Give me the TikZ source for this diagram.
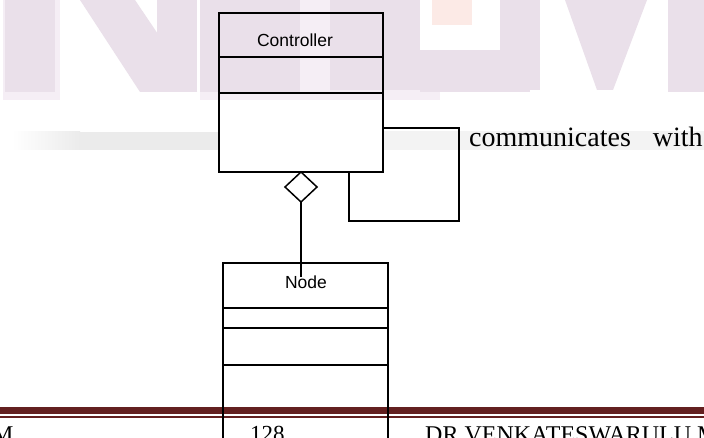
\documentclass[tikz,border=0pt]{standalone}
\usepackage{fontspec}
\setmainfont{Liberation Serif}
\newfontfamily\arialf{Liberation Sans}
\usetikzlibrary{shapes.geometric,calc}
\definecolor{lav}{RGB}{234,224,234}
\definecolor{lavl}{RGB}{245,238,245}
\definecolor{peach}{RGB}{252,234,230}
\definecolor{bandgray}{RGB}{235,235,235}
\definecolor{footred}{RGB}{99,32,32}
\tikzset{
  umlbox/.style={draw=black, line width=1.6pt, minimum width=164pt, inner sep=0pt, outer sep=0pt, anchor=north west},
  umlline/.style={draw=black, line width=1.6pt},
  sanslbl/.style={font=\arialf\fontsize{17.5}{20}\selectfont, inner sep=0pt, anchor=base},
  seriflbl/.style={font=\fontsize{28}{32}\selectfont, inner sep=0pt, anchor=base west},
  footlbl/.style={font=\fontsize{24}{28}\selectfont, inner sep=0pt, anchor=base west},
  aggdiamond/.style={shape=diamond, draw=black, line width=1.5pt, fill=white, minimum width=32pt, minimum height=30pt, inner sep=0pt, outer sep=0pt}
}
\begin{document}
\begin{tikzpicture}[x=1pt,y=-1pt]
\useasboundingbox (0,0) rectangle (704,438);
\clip (0,0) rectangle (704,438);
\fill[white] (0,0) rectangle (704,438);
% faint watermark
\fill[lavl] (3,0) rectangle (60,100);
\fill[lav] (5,0) rectangle (55,92);
\fill[lav] (80,0) -- (135,0) -- (197,92) -- (140,92) -- cycle;
\fill[lav] (157,0) rectangle (197,92);
\fill[lavl] (200,0) rectangle (440,100);
\fill[lav] (200,0) rectangle (300,92);
\fill[lav] (330,0) rectangle (440,90);
\fill[white] (420,0) rectangle (500,50);
\fill[peach] (432,0) rectangle (472,25);
\fill[lav] (420,50) rectangle (530,92);
\fill[lav] (500,0) rectangle (540,90);
\fill[lav] (565,0) -- (647,0) -- (613,90) -- (597,90) -- cycle;
\fill[lav] (668,0) rectangle (704,92);
% light grey band
\fill[left color=white, right color=bandgray] (12,132) rectangle (80,150);
\fill[bandgray] (80,132) rectangle (219,150);
\fill[bandgray!60] (383,131) rectangle (704,150);
% Controller class
\node[umlbox, minimum height=159pt] (ctrl) at (219,13) {};
\draw[umlline] (219,57) -- (383,57);
\draw[umlline] (219,93) -- (383,93);
\node[sanslbl] (ctrlname) at (295,47) {Controller};
% self association
\draw[umlline] ($(ctrl.east)+(0,35.5)$) -| (459,221) -| ($(ctrl.south)+(48,0)$);
\node[seriflbl] (comm) at (469,147) {communicates\hspace{22pt}with};
% aggregation
\node[aggdiamond, anchor=north] (dia) at (ctrl.south) {};
\coordinate (aggend) at (301,277);
\draw[umlline] (dia.south) -- (aggend);
% footer
\fill[footred] (0,407) rectangle (704,414);
\fill[footred] (0,415.8) rectangle (704,417.6);
% Node class
\node[umlbox, minimum width=165pt, minimum height=102pt] (cls) at (223,263) {};
\draw[umlline] (223,308) -- (388,308);
\draw[umlline] (223,328) -- (388,328);
\draw[umlline] (cls.south west) -- ++(0,80);
\draw[umlline] (cls.south east) -- ++(0,80);
\node[sanslbl] (clsname) at (306,289) {Node};
\node[footlbl] (fm) at (-8,442) {M};
\node[footlbl, font=\fontsize{23}{28}\selectfont] (fpage) at (250,441.5) {128};
\node[footlbl] (fauth) at (425,442) {DR VENKATESWARULU M};
\end{tikzpicture}
\end{document}
